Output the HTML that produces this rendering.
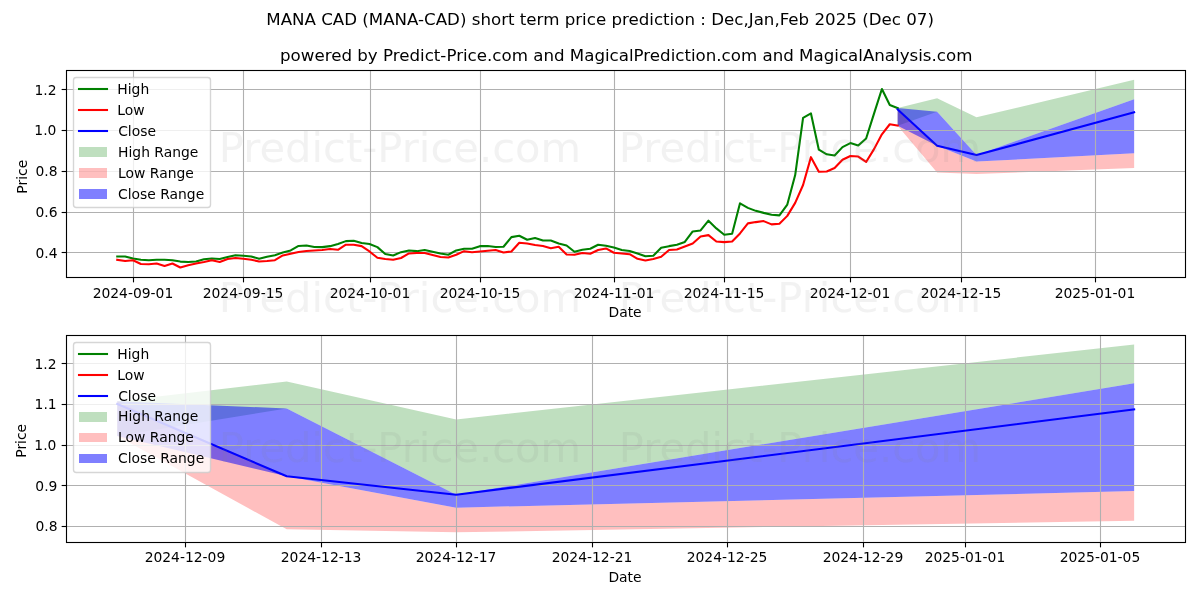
<!DOCTYPE html>
<html lang="en">
<head>
<meta charset="utf-8">
<title>MANA CAD (MANA-CAD) short term price prediction</title>
<style>
html,body{margin:0;padding:0;background:#ffffff;}
body{width:1200px;height:600px;overflow:hidden;font-family:"DejaVu Sans","Liberation Sans",sans-serif;}
svg{display:block;}
svg text{font-family:"DejaVu Sans","Liberation Sans",sans-serif;white-space:pre;}
</style>
</head>
<body>
<svg width="1200" height="600" viewBox="0 0 1200 600" font-family="&quot;DejaVu Sans&quot;, &quot;Liberation Sans&quot;, sans-serif">
<rect x="0" y="0" width="1200" height="600" fill="#ffffff"/>
<clipPath id="cp1"><rect x="66.403" y="70.333" width="1118.597" height="206.556"/></clipPath>
<g clip-path="url(#cp1)">
<polygon points="897.665,108.121 897.665,125.663 937.08,111.808 976.495,155.065 1134.155,99.163 1134.155,79.722 1134.155,79.722 976.495,117.328 937.08,98.259 897.665,108.121 897.665,108.121" fill="#008000" fill-opacity="0.25"/>
<polygon points="897.665,108.121 897.665,125.663 937.08,172.427 976.495,173.956 1134.155,168.111 1134.155,153.257 1134.155,153.257 976.495,161.588 937.08,145.831 897.665,108.121 897.665,108.121" fill="#ff0000" fill-opacity="0.25"/>
<polygon points="897.665,108.121 897.665,125.663 937.08,145.831 976.495,161.588 1134.155,153.257 1134.155,99.163 1134.155,99.163 976.495,155.065 937.08,111.808 897.665,108.121 897.665,108.121" fill="#0000ff" fill-opacity="0.5"/>
<line x1="133.5" y1="70.5" x2="133.5" y2="277.5" stroke="#b0b0b0" stroke-width="1.111"/>
<line x1="243.5" y1="70.5" x2="243.5" y2="277.5" stroke="#b0b0b0" stroke-width="1.111"/>
<line x1="370.5" y1="70.5" x2="370.5" y2="277.5" stroke="#b0b0b0" stroke-width="1.111"/>
<line x1="480.5" y1="70.5" x2="480.5" y2="277.5" stroke="#b0b0b0" stroke-width="1.111"/>
<line x1="614.5" y1="70.5" x2="614.5" y2="277.5" stroke="#b0b0b0" stroke-width="1.111"/>
<line x1="724.5" y1="70.5" x2="724.5" y2="277.5" stroke="#b0b0b0" stroke-width="1.111"/>
<line x1="850.5" y1="70.5" x2="850.5" y2="277.5" stroke="#b0b0b0" stroke-width="1.111"/>
<line x1="961.5" y1="70.5" x2="961.5" y2="277.5" stroke="#b0b0b0" stroke-width="1.111"/>
<line x1="1095.5" y1="70.5" x2="1095.5" y2="277.5" stroke="#b0b0b0" stroke-width="1.111"/>
<line x1="66.5" y1="252.5" x2="1185.5" y2="252.5" stroke="#b0b0b0" stroke-width="1.111"/>
<line x1="66.5" y1="212.5" x2="1185.5" y2="212.5" stroke="#b0b0b0" stroke-width="1.111"/>
<line x1="66.5" y1="171.5" x2="1185.5" y2="171.5" stroke="#b0b0b0" stroke-width="1.111"/>
<line x1="66.5" y1="130.5" x2="1185.5" y2="130.5" stroke="#b0b0b0" stroke-width="1.111"/>
<line x1="66.5" y1="89.5" x2="1185.5" y2="89.5" stroke="#b0b0b0" stroke-width="1.111"/>
<polyline points="117.248,256.474 125.131,256.474 133.014,258.479 140.897,259.681 148.78,260.183 156.663,259.782 164.546,259.782 172.429,260.283 180.312,261.586 188.195,261.987 196.078,261.486 203.961,259.18 211.844,258.479 219.727,258.98 227.61,256.975 235.493,255.171 243.376,255.772 251.259,256.474 259.142,258.779 267.025,256.775 274.908,255.171 282.791,252.464 290.674,250.46 298.557,245.949 306.44,245.448 314.323,246.951 322.206,247.152 330.089,246.149 337.972,243.944 345.855,241.137 353.738,240.736 361.621,242.942 369.504,243.944 377.387,247.152 385.27,253.968 393.153,255.471 401.036,252.164 408.919,250.46 416.802,251.161 424.685,249.958 432.568,251.763 440.451,253.467 448.334,254.77 456.217,250.46 464.1,248.755 471.983,248.755 479.866,246.149 487.749,245.949 495.632,246.951 503.515,246.751 511.398,237.128 519.281,235.725 527.164,239.734 535.047,237.93 542.93,240.436 550.813,240.436 558.696,243.443 566.579,245.448 574.462,251.763 582.345,249.758 590.228,248.755 598.111,244.746 605.994,245.748 613.877,247.452 621.76,249.958 629.643,250.961 637.526,253.467 645.409,256.173 653.292,255.772 661.175,247.753 669.058,246.149 676.941,244.746 684.824,241.939 692.707,231.414 700.59,230.412 708.473,220.689 716.356,228.407 724.239,234.722 732.122,233.72 740.005,203.348 747.888,207.858 755.771,210.865 763.654,212.87 771.537,214.675 779.42,215.376 787.303,204.55 795.186,175.08 803.069,117.845 810.952,113.434 818.835,149.72 826.718,154.331 834.601,155.534 842.484,147.114 850.367,143.105 858.25,145.41 866.133,138.494 874.016,113.635 881.899,88.976 889.782,105.014 897.665,108.121" fill="none" stroke="#008000" stroke-width="2.083" stroke-linejoin="round" stroke-linecap="square"/>
<polyline points="117.248,259.782 125.131,260.985 133.014,260.283 140.897,263.992 148.78,264.192 156.663,263.49 164.546,265.996 172.429,263.49 180.312,267.5 188.195,265.195 196.078,263.49 203.961,261.987 211.844,260.283 219.727,261.987 227.61,258.98 235.493,257.977 243.376,258.779 251.259,259.782 259.142,261.486 267.025,260.985 274.908,260.183 282.791,255.471 290.674,253.767 298.557,251.963 306.44,250.961 314.323,250.46 322.206,249.958 330.089,248.956 337.972,249.758 345.855,244.746 353.738,244.746 361.621,246.149 369.504,251.462 377.387,257.777 385.27,258.98 393.153,259.782 401.036,257.977 408.919,253.467 416.802,252.965 424.685,252.965 432.568,254.97 440.451,256.975 448.334,257.476 456.217,254.77 464.1,251.161 471.983,252.164 479.866,251.462 487.749,250.76 495.632,249.958 503.515,252.464 511.398,251.462 519.281,242.741 527.164,243.443 535.047,244.946 542.93,245.949 550.813,248.154 558.696,246.751 566.579,254.469 574.462,254.77 582.345,252.965 590.228,253.767 598.111,249.958 605.994,248.455 613.877,252.765 621.76,253.467 629.643,254.168 637.526,258.779 645.409,260.483 653.292,258.98 661.175,256.775 669.058,249.958 676.941,249.457 684.824,246.45 692.707,243.443 700.59,236.426 708.473,235.123 716.356,241.438 724.239,242.14 732.122,241.438 740.005,233.419 747.888,223.395 755.771,222.092 763.654,221.09 771.537,224.398 779.42,223.696 787.303,215.877 795.186,202.846 803.069,185.004 810.952,157.138 818.835,171.773 826.718,171.572 834.601,167.964 842.484,159.744 850.367,156.035 858.25,156.536 866.133,161.949 874.016,149.119 881.899,134.284 889.782,124.26 897.665,125.663" fill="none" stroke="#ff0000" stroke-width="2.083" stroke-linejoin="round" stroke-linecap="square"/>
<polyline points="897.665,109.5 937.08,145.831 976.495,155.065 1134.155,112.259" fill="none" stroke="#0000ff" stroke-width="2.083" stroke-linejoin="round" stroke-linecap="square"/>
</g>
<line x1="133.5" y1="277.5" x2="133.5" y2="282.361" stroke="#000" stroke-width="1.111"/>
<line x1="243.5" y1="277.5" x2="243.5" y2="282.361" stroke="#000" stroke-width="1.111"/>
<line x1="370.5" y1="277.5" x2="370.5" y2="282.361" stroke="#000" stroke-width="1.111"/>
<line x1="480.5" y1="277.5" x2="480.5" y2="282.361" stroke="#000" stroke-width="1.111"/>
<line x1="614.5" y1="277.5" x2="614.5" y2="282.361" stroke="#000" stroke-width="1.111"/>
<line x1="724.5" y1="277.5" x2="724.5" y2="282.361" stroke="#000" stroke-width="1.111"/>
<line x1="850.5" y1="277.5" x2="850.5" y2="282.361" stroke="#000" stroke-width="1.111"/>
<line x1="961.5" y1="277.5" x2="961.5" y2="282.361" stroke="#000" stroke-width="1.111"/>
<line x1="1095.5" y1="277.5" x2="1095.5" y2="282.361" stroke="#000" stroke-width="1.111"/>
<line x1="61.639" y1="252.5" x2="66.5" y2="252.5" stroke="#000" stroke-width="1.111"/>
<line x1="61.639" y1="212.5" x2="66.5" y2="212.5" stroke="#000" stroke-width="1.111"/>
<line x1="61.639" y1="171.5" x2="66.5" y2="171.5" stroke="#000" stroke-width="1.111"/>
<line x1="61.639" y1="130.5" x2="66.5" y2="130.5" stroke="#000" stroke-width="1.111"/>
<line x1="61.639" y1="89.5" x2="66.5" y2="89.5" stroke="#000" stroke-width="1.111"/>
<rect x="66.5" y="70.5" width="1119" height="207" fill="none" stroke="#000" stroke-width="1.111" stroke-linejoin="miter"/>
<rect x="73.5" y="77.5" width="137" height="130" rx="2.778" ry="2.778" fill="#ffffff" fill-opacity="0.8" stroke="#cccccc" stroke-opacity="0.8" stroke-width="1.389"/>
<line x1="79" y1="89" x2="107" y2="89" stroke="#008000" stroke-width="2.083" stroke-linecap="square"/>
<line x1="79" y1="110" x2="107" y2="110" stroke="#ff0000" stroke-width="2.083" stroke-linecap="square"/>
<line x1="79" y1="131" x2="107" y2="131" stroke="#0000ff" stroke-width="2.083" stroke-linecap="square"/>
<rect x="79" y="147" width="28" height="10" fill="#008000" fill-opacity="0.25"/>
<rect x="79" y="168" width="28" height="10" fill="#ff0000" fill-opacity="0.25"/>
<rect x="79" y="189" width="28" height="10" fill="#0000ff" fill-opacity="0.5"/>
<clipPath id="cp2"><rect x="66.403" y="335.167" width="1118.597" height="206.556"/></clipPath>
<g clip-path="url(#cp2)">
<polygon points="117.248,401.146 117.248,436.101 286.733,408.491 456.217,494.688 1134.155,383.295 1134.155,344.556 1134.155,344.556 456.217,419.492 286.733,381.493 117.248,401.146 117.248,401.146" fill="#008000" fill-opacity="0.25"/>
<polygon points="117.248,401.146 117.248,436.101 286.733,529.285 456.217,532.333 1134.155,520.686 1134.155,491.087 1134.155,491.087 456.217,507.687 286.733,476.289 117.248,401.146 117.248,401.146" fill="#ff0000" fill-opacity="0.25"/>
<polygon points="117.248,401.146 117.248,436.101 286.733,476.289 456.217,507.687 1134.155,491.087 1134.155,383.295 1134.155,383.295 456.217,494.688 286.733,408.491 117.248,401.146 117.248,401.146" fill="#0000ff" fill-opacity="0.5"/>
<line x1="185.5" y1="335.5" x2="185.5" y2="542.5" stroke="#b0b0b0" stroke-width="1.111"/>
<line x1="321.5" y1="335.5" x2="321.5" y2="542.5" stroke="#b0b0b0" stroke-width="1.111"/>
<line x1="456.5" y1="335.5" x2="456.5" y2="542.5" stroke="#b0b0b0" stroke-width="1.111"/>
<line x1="592.5" y1="335.5" x2="592.5" y2="542.5" stroke="#b0b0b0" stroke-width="1.111"/>
<line x1="727.5" y1="335.5" x2="727.5" y2="542.5" stroke="#b0b0b0" stroke-width="1.111"/>
<line x1="863.5" y1="335.5" x2="863.5" y2="542.5" stroke="#b0b0b0" stroke-width="1.111"/>
<line x1="965.5" y1="335.5" x2="965.5" y2="542.5" stroke="#b0b0b0" stroke-width="1.111"/>
<line x1="1100.5" y1="335.5" x2="1100.5" y2="542.5" stroke="#b0b0b0" stroke-width="1.111"/>
<line x1="66.5" y1="526.5" x2="1185.5" y2="526.5" stroke="#b0b0b0" stroke-width="1.111"/>
<line x1="66.5" y1="485.5" x2="1185.5" y2="485.5" stroke="#b0b0b0" stroke-width="1.111"/>
<line x1="66.5" y1="445.5" x2="1185.5" y2="445.5" stroke="#b0b0b0" stroke-width="1.111"/>
<line x1="66.5" y1="404.5" x2="1185.5" y2="404.5" stroke="#b0b0b0" stroke-width="1.111"/>
<line x1="66.5" y1="363.5" x2="1185.5" y2="363.5" stroke="#b0b0b0" stroke-width="1.111"/>
<polyline points="117.248,403.892 286.733,476.289 456.217,494.688 1134.155,409.391" fill="none" stroke="#0000ff" stroke-width="2.083" stroke-linejoin="round" stroke-linecap="square"/>
</g>
<line x1="185.5" y1="542.5" x2="185.5" y2="547.361" stroke="#000" stroke-width="1.111"/>
<line x1="321.5" y1="542.5" x2="321.5" y2="547.361" stroke="#000" stroke-width="1.111"/>
<line x1="456.5" y1="542.5" x2="456.5" y2="547.361" stroke="#000" stroke-width="1.111"/>
<line x1="592.5" y1="542.5" x2="592.5" y2="547.361" stroke="#000" stroke-width="1.111"/>
<line x1="727.5" y1="542.5" x2="727.5" y2="547.361" stroke="#000" stroke-width="1.111"/>
<line x1="863.5" y1="542.5" x2="863.5" y2="547.361" stroke="#000" stroke-width="1.111"/>
<line x1="965.5" y1="542.5" x2="965.5" y2="547.361" stroke="#000" stroke-width="1.111"/>
<line x1="1100.5" y1="542.5" x2="1100.5" y2="547.361" stroke="#000" stroke-width="1.111"/>
<line x1="61.639" y1="526.5" x2="66.5" y2="526.5" stroke="#000" stroke-width="1.111"/>
<line x1="61.639" y1="485.5" x2="66.5" y2="485.5" stroke="#000" stroke-width="1.111"/>
<line x1="61.639" y1="445.5" x2="66.5" y2="445.5" stroke="#000" stroke-width="1.111"/>
<line x1="61.639" y1="404.5" x2="66.5" y2="404.5" stroke="#000" stroke-width="1.111"/>
<line x1="61.639" y1="363.5" x2="66.5" y2="363.5" stroke="#000" stroke-width="1.111"/>
<rect x="66.5" y="335.5" width="1119" height="207" fill="none" stroke="#000" stroke-width="1.111" stroke-linejoin="miter"/>
<rect x="73.5" y="342.5" width="137" height="130" rx="2.778" ry="2.778" fill="#ffffff" fill-opacity="0.8" stroke="#cccccc" stroke-opacity="0.8" stroke-width="1.389"/>
<line x1="79" y1="354" x2="107" y2="354" stroke="#008000" stroke-width="2.083" stroke-linecap="square"/>
<line x1="79" y1="375" x2="107" y2="375" stroke="#ff0000" stroke-width="2.083" stroke-linecap="square"/>
<line x1="79" y1="396" x2="107" y2="396" stroke="#0000ff" stroke-width="2.083" stroke-linecap="square"/>
<rect x="79" y="412" width="28" height="10" fill="#008000" fill-opacity="0.25"/>
<rect x="79" y="433" width="28" height="9" fill="#ff0000" fill-opacity="0.25"/>
<rect x="79" y="454" width="28" height="9" fill="#0000ff" fill-opacity="0.5"/>
<g>
<text x="132.949" y="297.666" font-size="13.889" text-anchor="middle" fill="#000000">2024-09-01</text>
<text x="242.987" y="297.627" font-size="13.889" text-anchor="middle" fill="#000000">2024-09-15</text>
<text x="369.965" y="297.698" font-size="13.889" text-anchor="middle" fill="#000000">2024-10-01</text>
<text x="480.007" y="297.67" font-size="13.889" text-anchor="middle" fill="#000000">2024-10-15</text>
<text x="614.019" y="297.674" font-size="13.889" text-anchor="middle" fill="#000000">2024-11-01</text>
<text x="724.043" y="297.63" font-size="13.889" text-anchor="middle" fill="#000000">2024-11-15</text>
<text x="849.951" y="297.641" font-size="13.889" text-anchor="middle" fill="#000000">2024-12-01</text>
<text x="960.988" y="297.68" font-size="13.889" text-anchor="middle" fill="#000000">2024-12-15</text>
<text x="1094.957" y="297.658" font-size="13.889" text-anchor="middle" fill="#000000">2025-01-01</text>
<text x="625.067" y="317.198" font-size="13.889" text-anchor="middle" fill="#000000">Date</text>
<text x="57.538" y="257.56" font-size="13.889" text-anchor="end" fill="#000000">0.4</text>
<text x="57.509" y="216.933" font-size="13.889" text-anchor="end" fill="#000000">0.6</text>
<text x="57.584" y="176.082" font-size="13.889" text-anchor="end" fill="#000000">0.8</text>
<text x="56.408" y="135.32" font-size="13.889" text-anchor="end" fill="#000000">1.0</text>
<text x="56.567" y="95.306" font-size="13.889" text-anchor="end" fill="#000000">1.2</text>
<text transform="translate(27.208,176.746) rotate(-90)" font-size="13.889" text-anchor="middle" fill="#000000">Price</text>
<text x="626.23" y="61.399" font-size="16.667" text-anchor="middle" fill="#000000">powered by Predict-Price.com and MagicalPrediction.com and MagicalAnalysis.com</text>
<text x="117.306" y="93.766" font-size="13.889" text-anchor="start" fill="#000000">High</text>
<text x="117.19" y="114.723" font-size="13.889" text-anchor="start" fill="#000000">Low</text>
<text x="118.172" y="135.745" font-size="13.889" text-anchor="start" fill="#000000">Close</text>
<text x="118.033" y="156.612" font-size="13.889" text-anchor="start" fill="#000000">High Range</text>
<text x="118.098" y="177.589" font-size="13.889" text-anchor="start" fill="#000000">Low Range</text>
<text x="118.046" y="198.548" font-size="13.889" text-anchor="start" fill="#000000">Close Range</text>
<text x="184.971" y="562.496" font-size="13.889" text-anchor="middle" fill="#000000">2024-12-09</text>
<text x="321.057" y="562.495" font-size="13.889" text-anchor="middle" fill="#000000">2024-12-13</text>
<text x="456.031" y="562.391" font-size="13.889" text-anchor="middle" fill="#000000">2024-12-17</text>
<text x="591.979" y="562.478" font-size="13.889" text-anchor="middle" fill="#000000">2024-12-21</text>
<text x="726.978" y="562.4" font-size="13.889" text-anchor="middle" fill="#000000">2024-12-25</text>
<text x="862.976" y="562.462" font-size="13.889" text-anchor="middle" fill="#000000">2024-12-29</text>
<text x="964.95" y="562.489" font-size="13.889" text-anchor="middle" fill="#000000">2025-01-01</text>
<text x="1099.949" y="562.459" font-size="13.889" text-anchor="middle" fill="#000000">2025-01-05</text>
<text x="625.016" y="582.038" font-size="13.889" text-anchor="middle" fill="#000000">Date</text>
<text x="57.584" y="531.297" font-size="13.889" text-anchor="end" fill="#000000">0.8</text>
<text x="57.444" y="490.655" font-size="13.889" text-anchor="end" fill="#000000">0.9</text>
<text x="56.408" y="449.987" font-size="13.889" text-anchor="end" fill="#000000">1.0</text>
<text x="56.669" y="409.422" font-size="13.889" text-anchor="end" fill="#000000">1.1</text>
<text x="56.567" y="369.425" font-size="13.889" text-anchor="end" fill="#000000">1.2</text>
<text transform="translate(26.08,440.797) rotate(-90)" font-size="13.889" text-anchor="middle" fill="#000000">Price</text>
<text x="117.306" y="358.6" font-size="13.889" text-anchor="start" fill="#000000">High</text>
<text x="117.19" y="379.556" font-size="13.889" text-anchor="start" fill="#000000">Low</text>
<text x="118.172" y="400.579" font-size="13.889" text-anchor="start" fill="#000000">Close</text>
<text x="118.033" y="421.445" font-size="13.889" text-anchor="start" fill="#000000">High Range</text>
<text x="118.098" y="442.422" font-size="13.889" text-anchor="start" fill="#000000">Low Range</text>
<text x="118.046" y="463.381" font-size="13.889" text-anchor="start" fill="#000000">Close Range</text>
<text x="600.085" y="24.913" font-size="16.667" text-anchor="middle" fill="#000000">MANA CAD (MANA-CAD) short term price prediction : Dec,Jan,Feb 2025 (Dec 07)</text>
<text x="400" y="162" font-size="41.667" text-anchor="middle" fill="#808080" fill-opacity="0.1">Predict-Price.com</text>
<text x="800" y="162" font-size="41.667" text-anchor="middle" fill="#808080" fill-opacity="0.1">Predict-Price.com</text>
<text x="400" y="312" font-size="41.667" text-anchor="middle" fill="#808080" fill-opacity="0.1">Predict-Price.com</text>
<text x="800" y="312" font-size="41.667" text-anchor="middle" fill="#808080" fill-opacity="0.1">Predict-Price.com</text>
<text x="400" y="462" font-size="41.667" text-anchor="middle" fill="#808080" fill-opacity="0.1">Predict-Price.com</text>
<text x="800" y="462" font-size="41.667" text-anchor="middle" fill="#808080" fill-opacity="0.1">Predict-Price.com</text>
</g>
</svg>
</body>
</html>
